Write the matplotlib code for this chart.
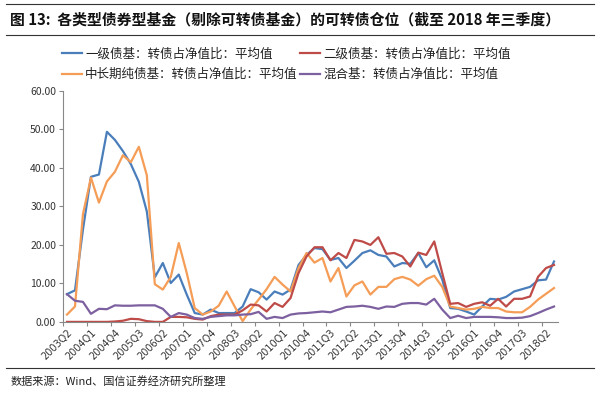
import numpy as np
import matplotlib
matplotlib.use('Agg')
import matplotlib.pyplot as plt

plt.rcParams['font.family'] = ['Noto Sans CJK SC', 'DejaVu Sans']

# quarters 2003Q2 .. 2018Q3
quarters = ['%dQ%d' % (2003 + (q + 1) // 4, (q + 1) % 4 + 1) for q in range(62)]

# 一级债基
yiji = [7.2, 8.2, 24.0, 37.7, 38.3, 49.4, 47.3, 44.4, 41.0, 36.4,
        28.7, 11.6, 15.3, 10.1, 12.3, 7.1, 2.3, 1.9, 3.2, 2.3,
        2.3, 2.3, 4.0, 8.5, 7.7, 5.8, 7.9, 7.1, 8.4, 14.8,
        17.4, 19.2, 18.9, 16.1, 16.6, 14.0, 15.9, 17.9, 18.6, 17.4,
        17.0, 14.4, 15.3, 15.1, 17.9, 14.2, 16.0, 11.0, 3.6, 3.4,
        2.7, 1.9, 4.0, 6.0, 5.8, 6.5, 7.9, 8.5, 9.1, 10.8,
        11.0, 15.7]
# 二级债基
erji = [0.0, 0.0, 0.0, 0.0, 0.0, 0.0, 0.1, 0.3, 0.8, 0.7,
        0.2, 0.0, 0.0, 1.3, 1.3, 1.2, 0.8, 0.6, 1.5, 1.9,
        1.9, 1.9, 3.0, 4.5, 4.3, 2.7, 4.9, 3.9, 6.2, 12.7,
        17.0, 19.4, 19.4, 16.0, 17.9, 16.6, 21.3, 20.9, 20.0, 22.0,
        17.7, 17.9, 17.0, 14.4, 18.0, 17.4, 20.9, 12.7, 4.7, 4.9,
        3.9, 4.7, 5.1, 4.2, 6.0, 4.0, 6.0, 6.0, 6.6, 11.7,
        14.0, 14.8]
# 中长期纯债基
zhongchang = [1.9, 4.0, 28.0, 37.5, 31.0, 36.5, 39.0, 43.3, 41.5, 45.5,
              38.1, 9.8, 8.4, 11.7, 20.5, 12.7, 3.6, 1.9, 2.7, 4.2,
              7.9, 4.0, 0.2, 3.2, 5.8, 8.5, 11.7, 9.7, 7.9, 14.0,
              17.9, 15.4, 16.6, 10.5, 14.0, 6.6, 9.5, 10.5, 7.1, 9.1,
              9.1, 11.1, 11.7, 11.0, 9.4, 11.1, 12.0, 9.1, 4.0, 3.6,
              3.2, 3.4, 3.9, 3.6, 3.6, 2.7, 2.5, 2.5, 3.9, 5.8,
              7.3, 8.8]
# 混合基
hunhe = [7.2, 5.5, 5.2, 2.1, 3.4, 3.3, 4.3, 4.2, 4.2, 4.3,
         4.3, 4.3, 3.4, 1.3, 2.3, 1.9, 1.0, 0.8, 1.3, 1.5,
         1.7, 1.7, 1.9, 2.0, 2.6, 0.8, 1.3, 1.0, 1.9, 2.2,
         2.3, 2.5, 2.7, 2.5, 3.2, 3.9, 4.0, 4.2, 3.9, 3.4,
         4.0, 3.9, 4.7, 4.9, 4.9, 4.5, 6.0, 3.2, 1.0, 1.6,
         1.0, 1.3, 1.3, 1.3, 1.2, 1.0, 1.0, 1.1, 1.5, 2.3,
         3.2, 4.0]

names = ['一级债基：转债占净值比：平均值', '中长期纯债基：转债占净值比：平均值',
         '二级债基：转债占净值比：平均值', '混合基：转债占净值比：平均值']
colors = ['#4A7EBB', '#F59D56', '#BE4B48', '#7D60A0']

fig = plt.figure(figsize=(6.0, 3.94), dpi=100)
fig.patch.set_facecolor('white')
ax = fig.add_axes([0.105, 0.183, 0.825, 0.586])

x = np.arange(len(quarters))
lines = []
for data, c in zip([yiji, zhongchang, erji, hunhe], colors):
    l, = ax.plot(x, data, color=c, linewidth=1.6, solid_joinstyle='round')
    lines.append(l)

ax.set_xlim(-0.5, len(quarters) - 0.5)
ax.set_ylim(0, 60)
ax.set_yticks(np.arange(0, 61, 10))
ax.set_yticklabels(['%.2f' % v for v in np.arange(0, 61, 10)], fontsize=7.5, color='#333333')

ax.set_xticks(np.arange(-0.5, len(quarters), 3))
ax.set_xticklabels([])
ax.set_xticks(np.arange(0, len(quarters), 3), minor=True)
ax.set_xticklabels(quarters[::3], minor=True, rotation=45, ha='right',
                   rotation_mode='anchor', fontsize=7, color='#333333',
                   family='DejaVu Sans')
ax.tick_params(axis='x', which='major', length=3, color='#888888')
ax.tick_params(axis='x', which='minor', length=0, pad=4)
ax.tick_params(axis='y', length=3, color='#888888', pad=2)

for s in ['top', 'right']:
    ax.spines[s].set_visible(False)
for s in ['left', 'bottom']:
    ax.spines[s].set_color('#888888')
    ax.spines[s].set_linewidth(0.8)

fig.legend(lines, names, ncol=2, loc='upper left', bbox_to_anchor=(0.093, 0.895),
           frameon=False, fontsize=9, handlelength=1.6, handletextpad=0.25,
           columnspacing=0.2, labelspacing=0.6, borderpad=0, labelcolor='#222222')

# title block
fig.add_artist(plt.Line2D([0.01, 0.99], [0.99, 0.99], color='#333333', linewidth=0.8))
fig.add_artist(plt.Line2D([0.01, 0.99], [0.912, 0.912], color='#333333', linewidth=0.8))
fig.text(0.016, 0.951, '图 13:  各类型债券型基金（剔除可转债基金）的可转债仓位（截至 2018 年三季度）',
         fontsize=10.7, fontweight='bold', va='center', ha='left', color='#111111')

# source
fig.add_artist(plt.Line2D([0.01, 0.99], [0.066, 0.066], color='#333333', linewidth=0.8))
fig.text(0.018, 0.033, '数据来源：Wind、国信证券经济研究所整理', fontsize=8,
         va='center', ha='left', color='#222222')

fig.savefig('out.png', dpi=100)
